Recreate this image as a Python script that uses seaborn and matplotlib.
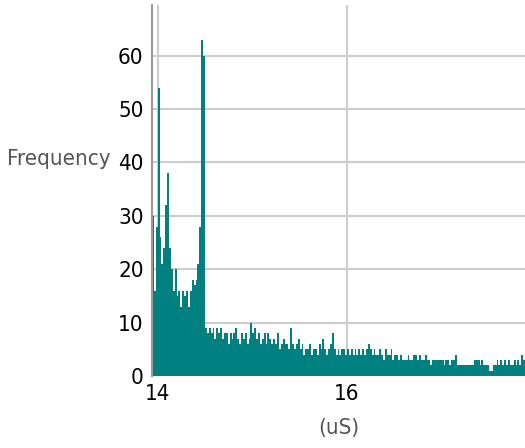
import numpy as np
import pandas as pd
import matplotlib.pyplot as plt
import seaborn as sns

# Histogram of timings (uS), bins of 0.02 starting at 13.94
bin_start = 13.94
bin_width = 0.02
counts = [
    30, 16, 28, 54, 26, 21, 24, 32, 38, 24,
    20, 16, 20, 15, 16, 13, 16, 15, 16, 13,
    16, 18, 17, 18, 21, 28, 63, 60,
    # long tail after 14.52
    9, 8, 9, 8, 9, 7, 9, 8, 9, 7, 8, 8, 6, 8, 7, 8, 9, 7, 6, 8,
    7, 8, 6, 7, 10, 8, 9, 7, 8, 6, 7, 8, 6, 8, 7, 6, 7, 6, 8, 5,
    6, 7, 6,
    6, 5, 9, 6, 5, 6, 7, 5, 6, 4, 5, 5, 6, 4, 5, 5, 4, 6, 5, 7,
    5, 4, 5, 6, 8, 5, 4, 5, 4, 5, 5, 4, 5, 4, 5, 4, 5, 4, 5, 4,
    5, 4, 5, 6, 5, 4, 5, 4, 4, 5, 4, 3, 5, 4, 4, 5, 3, 4, 4, 3,
    4, 3, 3, 3, 4, 3, 3, 4, 4, 3, 4, 3, 3, 4, 3, 3, 2, 3, 3, 3,
    3, 3,
    3, 2, 3, 3, 2, 3, 3, 4, 2, 2, 2, 2, 2, 2, 2, 2, 2, 3, 3, 3,
    2, 3, 2, 2, 2, 1, 1, 2, 2, 3, 2, 3, 2, 3, 2, 3, 2, 2, 3, 2,
    3, 2, 4, 3,
]
xticks = [14, 16]
yticks = [0, 10, 20, 30, 40, 50, 60]

nbins = len(counts)
bin_end = bin_start + bin_width * nbins
centers = bin_start + bin_width * (np.arange(nbins) + 0.5)
df = pd.DataFrame({"time": centers, "count": counts})

sns.set_style("white")
plt.rcParams['font.family'] = ['DejaVu Sans']
plt.rcParams['font.stretch'] = 'condensed'

fig = plt.figure(figsize=(5.25, 4.48), dpi=100)
ax = fig.add_axes([0.2895, 0.1607, 0.7105, 0.8283])

sns.histplot(data=df, x="time", weights="count", bins=nbins,
             binrange=(bin_start, bin_end), ax=ax,
             color="#008080", alpha=1, linewidth=0)

ax.set_xlim(13.94, 17.88)
ax.set_ylim(0, 69.5)
ax.set_xticks(xticks)
ax.set_yticks(yticks)
ax.grid(True, color="#cccccc", linewidth=1.5)
ax.set_axisbelow(True)
ax.tick_params(length=0, labelsize=16, labelcolor="black", pad=6)

for s in ["top", "right", "bottom"]:
    ax.spines[s].set_visible(False)
ax.spines["left"].set_color("#999999")
ax.spines["left"].set_linewidth(1.5)

ax.set_xlabel("(uS)", fontsize=16, color="#555555", labelpad=10)
ax.set_ylabel("Frequency", fontsize=16, color="#555555", rotation=0,
              ha="right", va="center")
ax.yaxis.set_label_coords(-0.11, 0.585)

fig.savefig("out.png", dpi=100)
